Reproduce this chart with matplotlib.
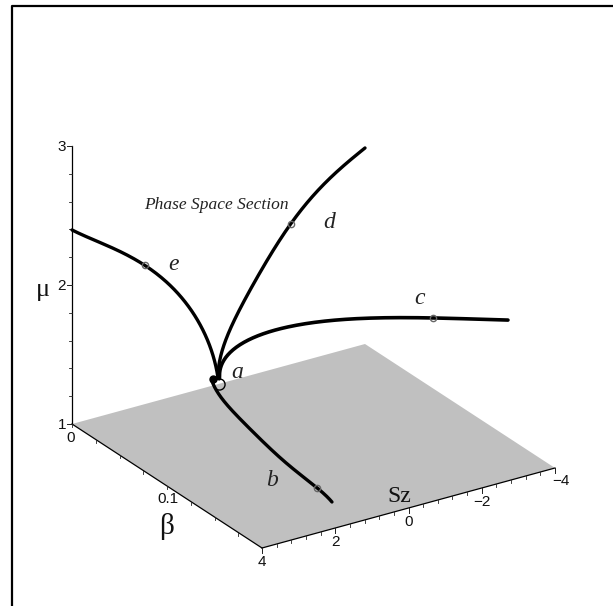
import matplotlib
matplotlib.use('Agg')
import matplotlib.pyplot as plt
from matplotlib.patches import Polygon
import numpy as np

# curves in (Sz, beta, mu)
d_sz = [1.181, 1.154, 0.853, 0.444, -0.021, -0.812, -1.741, -2.833]
d_mu = [1.329, 1.442, 1.650, 1.837, 2.034, 2.293, 2.522, 2.695]
d_beta = 0.045

c_sz = [1.181, 1.126, 0.853, 0.389, -0.239, -1.14, -2.068, -2.970, -4.690, -6.736]
c_mu = [1.329, 1.383, 1.485, 1.545, 1.558, 1.550, 1.512, 1.462, 1.338, 1.176]
c_beta = 0.045

e_beta = [0, 0.04, 0.0768, 0.101, 0.1242, 0.1379, 0.1484, 0.1537, 0.1537]
e_mu = [2.396, 2.452, 2.486, 2.458, 2.388, 2.291, 2.144, 2.053, 2.017]
e_sz = 4

b_sz = [0.243, 0.294, 0.386, 0.488, 0.802, 0.970, 1.171, 1.296]
b_beta = [0.0025, 0.0098, 0.0196, 0.0341, 0.0693, 0.1021, 0.1488, 0.1694]
b_mu = [1.05, 1, 1, 1, 1, 1, 1, 1]

mark_pts = [(1.171, 0.1488, 1), (-4.690, 0.045, 1.338), (-0.812, 0.045, 2.293), (4, 0.0768, 2.486)]
sz_major = [4, 2, 0, -2, -4]
sz_labels = ['4', '2', '0', '\u22122', '\u22124']
sz_minor = np.arange(4, -4.01, -0.4)
beta_minor = np.arange(0, 0.201, 0.025)
mu_minor = np.arange(1, 3.01, 0.2)

# the box is an affine view, so this is just three axis vectors
def proj(sz, beta, mu):
    sz, beta, mu = np.asarray(sz, float), np.asarray(beta, float), np.asarray(mu, float)
    u = (4 - sz) / 8
    v = beta / 0.2
    return 72 + 293 * u + 190 * v, 424 - 80 * u + 124 * v - 139 * (mu - 1)

def smooth(ax, x, y, lw, deg=5, power=1.0):
    t = np.r_[0, np.cumsum(np.hypot(np.diff(x), np.diff(y)))]
    t = (t / t[-1]) ** power
    w = np.ones(len(t))
    w[0] = w[-1] = 10
    tt = np.linspace(0, 1, 200)
    xs = np.polyval(np.polyfit(t, x, deg, w=w), tt)
    ys = np.polyval(np.polyfit(t, y, deg, w=w), tt)
    ax.plot(xs, ys, color='black', lw=lw, solid_capstyle='round', zorder=4)

fig = plt.figure(figsize=(6.13, 6.06), dpi=100)
ax = fig.add_axes([0, 0, 1, 1])
ax.set_xlim(0, 613)
ax.set_ylim(606, 0)
ax.axis('off')

ax.plot([11.5, 11.5, 613], [606, 6, 6], color='black', lw=1.6)

corners = [proj(4, 0, 1), proj(4, 0.2, 1), proj(-4, 0.2, 1), proj(-4, 0, 1)]
ax.add_patch(Polygon(corners, closed=True, fc='#c0c0c0', ec='none', zorder=1))

# axes
x, y = proj([4, 4], [0, 0.2], [1, 1])
ax.plot(x, y, color='black', lw=0.9, zorder=2)
x, y = proj([4, -4], [0.2, 0.2], [1, 1])
ax.plot(x, y, color='black', lw=0.9, zorder=2)
x, y = proj([4, 4], [0, 0], [1, 3])
ax.plot(x, y, color='black', lw=0.9, zorder=2)

for b in beta_minor:
    x, y = proj(4, b, 1)
    ax.plot([x, x], [y, y + 3], color='#222222', lw=0.6, zorder=2)
for s in sz_minor:
    x, y = proj(s, 0.2, 1)
    ax.plot([x, x], [y, y + 3], color='#222222', lw=0.6, zorder=2)
for s in sz_major:
    x, y = proj(s, 0.2, 1)
    ax.plot([x, x], [y, y + 5], color='#222222', lw=0.7, zorder=2)
for m in mu_minor:
    x, y = proj(4, 0, m)
    ax.plot([x - 3, x], [y, y], color='#222222', lw=0.6, zorder=2)
for m in [1, 2, 3]:
    x, y = proj(4, 0, m)
    ax.plot([x - 5, x], [y, y], color='#222222', lw=0.7, zorder=2)

tick_font = dict(family='Liberation Sans', fontsize=11, ha='center', va='center', color='#111111')
for m in [1, 2, 3]:
    x, y = proj(4, 0, m)
    ax.text(x - 10, y + 1, str(m), **tick_font)
ax.text(71, 438, '0', **tick_font)
x, y = proj(4, 0.1, 1)
ax.text(x + 0.5, y + 13, '0.1', **tick_font)
for s, lab in zip(sz_major, sz_labels):
    x, y = proj(s, 0.2, 1)
    if s == -4:
        ax.text(x + 6, y + 13, lab, **tick_font)
    else:
        ax.text(x, y + 14, lab, **tick_font)

serif = dict(family='Liberation Serif', ha='center', va='center', color='#111111')
ax.text(43, 290, '\u03bc', fontsize=19, **serif)
ax.text(167, 526, '\u03b2', fontsize=21, **serif)
ax.text(399, 497, 'Sz', fontsize=17, **serif)

ital = dict(family='Liberation Serif', style='italic', ha='center', va='center', color='#222222')
ax.text(216, 205, 'Phase Space Section', fontsize=12.5, **ital)
ax.text(237, 372, 'a', fontsize=17, **ital)
ax.text(272, 480, 'b', fontsize=17, **ital)
ax.text(420, 298, 'c', fontsize=17, **ital)
ax.text(329, 222, 'd', fontsize=17, **ital)
ax.text(174, 264, 'e', fontsize=17, **ital)

# curves
x, y = proj(d_sz, d_beta, d_mu)
smooth(ax, x, y, 2.4)
x, y = proj(c_sz, c_beta, c_mu)
smooth(ax, x, y, 2.6, deg=6, power=0.5)
x, y = proj(e_sz, e_beta, e_mu)
smooth(ax, x, y, 2.4)
x, y = proj(b_sz, b_beta, b_mu)
smooth(ax, x, y, 2.4)

# small circles on the curves
for p in mark_pts:
    x, y = proj(*p)
    ax.plot(x, y, 'o', ms=4.5, mfc='none', mec='#666666', mew=1, zorder=5)

# start point a, with the blob where the curves leave it
x, y = proj(0, 0, 1)
ax.plot(x, y, 'o', ms=8, mfc='none', mec='black', mew=1, zorder=5)
x, y = proj(0.15, 0, 1.047)
ax.plot(x, y, 'o', ms=5, mfc='black', mec='black', zorder=5)

plt.savefig('out.png', dpi=100)
